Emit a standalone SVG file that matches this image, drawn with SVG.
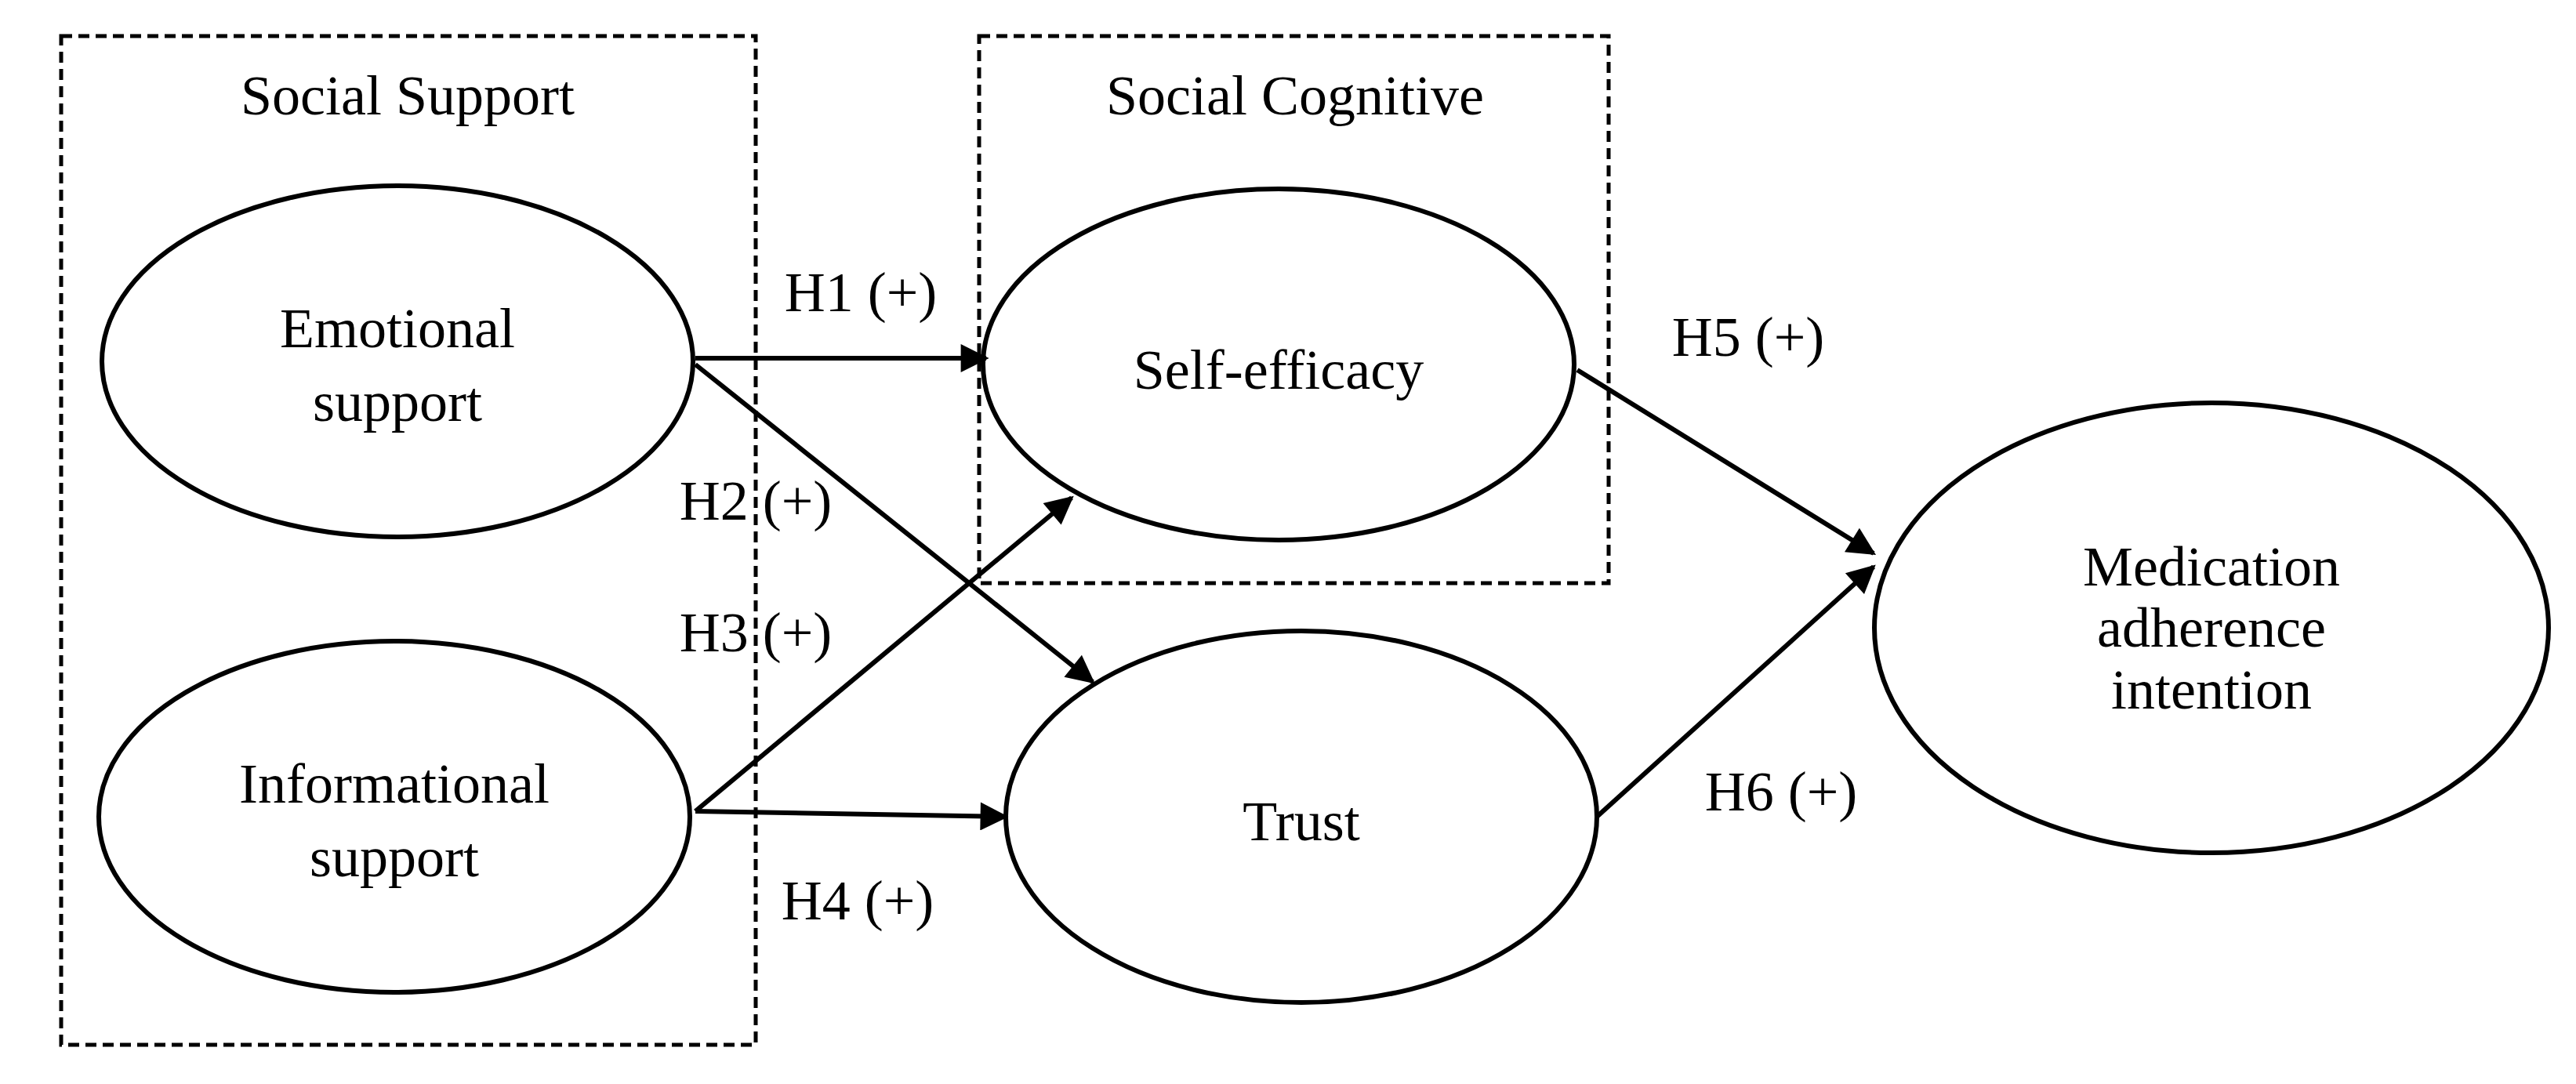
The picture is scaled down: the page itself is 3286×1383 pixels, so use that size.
<svg xmlns="http://www.w3.org/2000/svg" width="3286" height="1383" viewBox="0 0 3286 1383">
<defs>
<style>
text{font-family:"Liberation Serif","Times New Roman",serif;font-size:72px;fill:#000;text-anchor:middle;dominant-baseline:central}
.box{fill:none;stroke:#000;stroke-width:5;stroke-dasharray:14 8}
ellipse{fill:#fff;stroke:#000;stroke-width:6}
.c line{stroke:#000;stroke-width:6;marker-end:url(#ah)}
</style>
<marker id="ah" viewBox="0 0 10 10" refX="9" refY="5" markerWidth="7" markerHeight="6" orient="auto" markerUnits="strokeWidth"><path d="M0,0L10,5L0,10z" fill="#000"/></marker>
</defs>
<rect width="3286" height="1383" fill="#fff"/>
<g id="social-support"><rect class="box" x="78" y="46" width="886" height="1287"/><text x="520" y="122">Social Support</text></g>
<g id="social-cognitive"><rect class="box" x="1249" y="46" width="803" height="698"/><text x="1652" y="122">Social Cognitive</text></g>
<g id="emotional"><ellipse cx="507" cy="461" rx="377" ry="224"/><text x="507" y="419">Emotional</text><text x="507" y="513">support</text></g>
<g id="informational"><ellipse cx="503" cy="1042" rx="377" ry="224"/><text x="503" y="1000">Informational</text><text x="503" y="1094">support</text></g>
<g id="self-efficacy"><ellipse cx="1631" cy="465" rx="377" ry="224"/><text x="1631" y="472">Self-efficacy</text></g>
<g id="trust"><ellipse cx="1660" cy="1042" rx="377" ry="237"/><text x="1660" y="1048">Trust</text></g>
<g id="medication"><ellipse cx="2821" cy="801" rx="430" ry="287"/><text x="2821" y="723">Medication</text><text x="2821" y="801">adherence</text><text x="2821" y="880">intention</text></g>
<g class="c" id="connectors">
<line x1="887" y1="457" x2="1258" y2="457"/>
<line x1="887" y1="465" x2="1394" y2="870"/>
<line x1="887" y1="1035" x2="1367" y2="635"/>
<line x1="887" y1="1035" x2="1283" y2="1042"/>
<line x1="2012" y1="472" x2="2390" y2="706"/>
<line x1="2037" y1="1042" x2="2390" y2="723"/>
<text x="1098" y="373">H1 (+)</text>
<text x="964" y="639">H2 (+)</text>
<text x="964" y="807">H3 (+)</text>
<text x="1094" y="1149">H4 (+)</text>
<text x="2230" y="430">H5 (+)</text>
<text x="2272" y="1010">H6 (+)</text>
</g>
</svg>
